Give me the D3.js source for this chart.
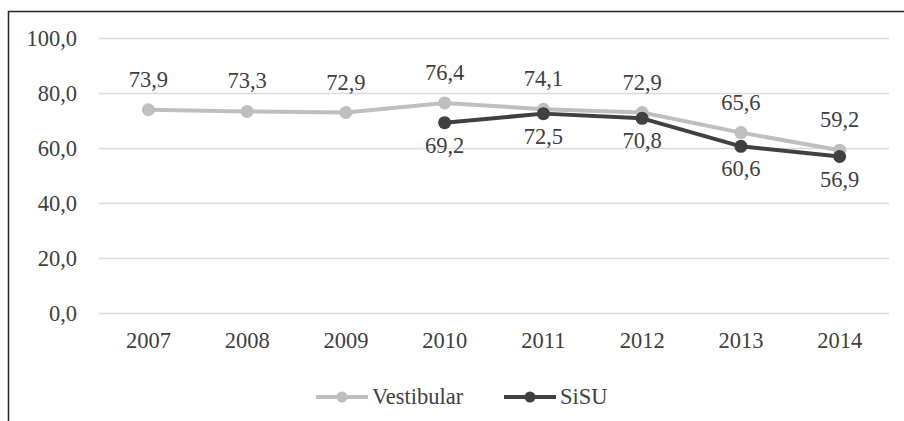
<!DOCTYPE html>
<html>
<head>
<meta charset="utf-8">
<script src="https://cdn.jsdelivr.net/npm/d3@7"></script>
<style>
  body { margin: 0; background: #fff; }
  svg text { font-family: 'Liberation Serif', 'Times New Roman', 'DejaVu Serif', serif; }
</style>
</head>
<body>
<div id="chart"></div>
<script>
// data
const years = ['2007', '2008', '2009', '2010', '2011', '2012', '2013', '2014'];
const vestibular = [73.9, 73.3, 72.9, 76.4, 74.1, 72.9, 65.6, 59.2];
const sisu = [null, null, null, 69.2, 72.5, 70.8, 60.6, 56.9];
const yTicks = [0, 20, 40, 60, 80, 100];

const w = 904;
const h = 421;
const plotLeft = 99;
const plotRight = 889;
const plotTop = 38;
const plotBottom = 313;
const fontSize = '22.5px';
const fontFamily = "'Liberation Serif', 'Times New Roman', 'DejaVu Serif', serif";

const textColor = '#404040';
const gridColor = '#d9d9d9';
const lightColor = '#bfbfbf';
const darkColor = '#404040';

const fmt = d3.formatLocale({ decimal: ',', thousands: '.', grouping: [3], currency: ['', ''] }).format('.1f');

const svg = d3
  .select('#chart')
  .append('svg')
  .attr('width', w)
  .attr('height', h)
  .style('display', 'block');

// outer frame (runs past right and bottom edges)
svg
  .append('rect')
  .attr('x', 8.5)
  .attr('y', 11.5)
  .attr('width', w + 20)
  .attr('height', h + 20)
  .attr('fill', 'none')
  .attr('stroke', '#262626')
  .attr('stroke-width', 1.5);

const xScale = d3.scaleBand().domain(years).range([plotLeft, plotRight]);
const yScale = d3.scaleLinear().domain([0, 100]).range([plotBottom, plotTop]);

// y axis + gridlines
const yAxis = d3
  .axisLeft(yScale)
  .tickValues(yTicks)
  .tickFormat(fmt)
  .tickSize(-(plotRight - plotLeft))
  .tickPadding(22);

const gy = svg
  .append('g')
  .attr('transform', `translate(${plotLeft}, 0)`)
  .call(yAxis)
  .attr('font-family', fontFamily)
  .attr('font-size', fontSize);
gy.select('.domain').remove();
gy.selectAll('line').attr('stroke', gridColor).attr('stroke-width', 1.3);
gy.selectAll('text').attr('fill', textColor);

// x axis labels
const xAxis = d3.axisBottom(xScale).tickSize(0).tickPadding(19);
const gx = svg
  .append('g')
  .attr('transform', `translate(0, ${plotBottom})`)
  .call(xAxis)
  .attr('font-family', fontFamily)
  .attr('font-size', fontSize);
gx.select('.domain').remove();
gx.selectAll('text').attr('fill', textColor);

const cx = i => xScale(years[i]) + xScale.bandwidth() / 2;

const line = d3
  .line()
  .defined(d => d != null)
  .x((d, i) => cx(i))
  .y(d => yScale(d));

// Vestibular
svg
  .append('path')
  .datum(vestibular)
  .attr('d', line)
  .attr('fill', 'none')
  .attr('stroke', lightColor)
  .attr('stroke-width', 4)
  .attr('stroke-linejoin', 'round');

svg
  .selectAll('circle.vest')
  .data(vestibular)
  .enter()
  .append('circle')
  .attr('class', 'vest')
  .attr('cx', (d, i) => cx(i))
  .attr('cy', d => yScale(d))
  .attr('r', 6.5)
  .attr('fill', lightColor);

// SiSU
svg
  .append('path')
  .datum(sisu)
  .attr('d', line)
  .attr('fill', 'none')
  .attr('stroke', darkColor)
  .attr('stroke-width', 4)
  .attr('stroke-linejoin', 'round');

const sisuPts = sisu.map((d, i) => ({ d, i })).filter(o => o.d != null);

svg
  .selectAll('circle.sisu')
  .data(sisuPts)
  .enter()
  .append('circle')
  .attr('class', 'sisu')
  .attr('cx', o => cx(o.i))
  .attr('cy', o => yScale(o.d))
  .attr('r', 6.5)
  .attr('fill', darkColor);

// value labels
svg
  .selectAll('text.vlab')
  .data(vestibular)
  .enter()
  .append('text')
  .attr('class', 'vlab')
  .text(d => fmt(d))
  .attr('x', (d, i) => cx(i))
  .attr('y', d => yScale(d) - 23)
  .attr('text-anchor', 'middle')
  .attr('font-family', fontFamily)
  .attr('font-size', fontSize)
  .attr('fill', textColor);

svg
  .selectAll('text.slab')
  .data(sisuPts)
  .enter()
  .append('text')
  .attr('class', 'slab')
  .text(o => fmt(o.d))
  .attr('x', o => cx(o.i))
  .attr('y', o => yScale(o.d) + 30)
  .attr('text-anchor', 'middle')
  .attr('font-family', fontFamily)
  .attr('font-size', fontSize)
  .attr('fill', textColor);

// legend
const legend = [
  { name: 'Vestibular', color: lightColor, x: 316 },
  { name: 'SiSU', color: darkColor, x: 504 },
];
const ly = 397;
const lg = svg
  .selectAll('g.legend')
  .data(legend)
  .enter()
  .append('g')
  .attr('class', 'legend')
  .attr('transform', d => `translate(${d.x}, ${ly})`);
lg.append('line')
  .attr('x1', 0)
  .attr('x2', 52)
  .attr('stroke', d => d.color)
  .attr('stroke-width', 4);
lg.append('circle')
  .attr('cx', 26)
  .attr('r', 5.5)
  .attr('fill', d => d.color);
lg.append('text')
  .text(d => d.name)
  .attr('x', 56)
  .attr('y', 7)
  .attr('font-family', fontFamily)
  .attr('font-size', fontSize)
  .attr('fill', textColor);
</script>
</body>
</html>
